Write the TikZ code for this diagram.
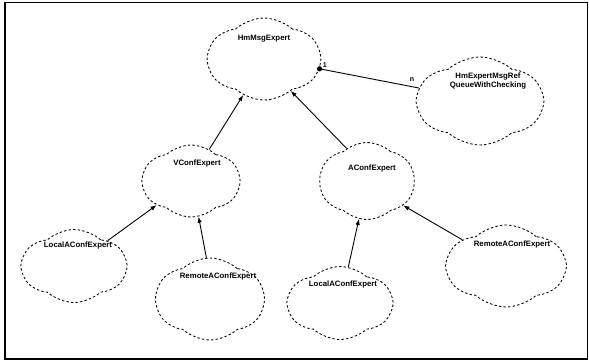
\documentclass[tikz,border=0pt]{standalone}
\usepackage{fontspec}
\setmainfont{Liberation Sans}
\usetikzlibrary{shapes.symbols,arrows.meta}
\tikzset{
  boochcloud/.style={shape=cloud, cloud puffs=6, cloud puff arc=85, cloud ignores aspect,
    draw=black, line width=0.85pt, dash pattern=on 2.4pt off 2.2pt, inner sep=0pt},
  cname/.style={font=\fontsize{7.8}{9}\selectfont\bfseries, align=center, inner sep=0pt},
  inherit/.style={-{Latex[length=6pt,width=4.5pt]}, line width=0.9pt},
  mult/.style={font=\fontsize{7}{8}\selectfont\bfseries, inner sep=0pt}
}
\begin{document}
\begin{tikzpicture}[x=1pt,y=-1pt]
\useasboundingbox (0,0) rectangle (589,362);
\draw[line width=1.6pt] (5,2.5) rectangle (587.5,359);
% clouds
\node[boochcloud, minimum width=112pt, minimum height=82pt, shape border rotate=10] (HM) at (264,59) {};
\node[boochcloud, minimum width=125pt, minimum height=88pt, shape border rotate=25] (QR) at (480,101) {};
\node[boochcloud, minimum width=97pt, minimum height=72pt, shape border rotate=5] (VC) at (191,181) {};
\node[boochcloud, minimum width=95pt, minimum height=77pt, shape border rotate=20] (AC) at (367,181) {};
\node[boochcloud, minimum width=104pt, minimum height=73pt, shape border rotate=15] (LL) at (74,266) {};
\node[boochcloud, minimum width=108pt, minimum height=82pt, shape border rotate=0] (RL) at (210,299) {};
\node[boochcloud, minimum width=104pt, minimum height=73pt, shape border rotate=30] (LB) at (340,303) {};
\node[boochcloud, minimum width=118pt, minimum height=82pt, shape border rotate=10] (RR) at (506,266) {};
% names
\node[cname] (tHM) at (264,39) {HmMsgExpert};
\node[cname] (tQR) at (488,81) {HmExpertMsgRef\\QueueWithChecking};
\node[cname] (tVC) at (197,163) {VConfExpert};
\node[cname] (tAC) at (372,168) {AConfExpert};
\node[cname] (tLL) at (78,245) {LocalAConfExpert};
\node[cname] (tRL) at (218,276) {RemoteAConfExpert};
\node[cname] (tLB) at (343,284) {LocalAConfExpert};
\node[cname] (tRR) at (512,244) {RemoteAConfExpert};
% inheritance
\draw[inherit] (VC.60) -- (HM.240);
\draw[inherit] (AC.122) -- (HM.310);
\draw[inherit] (LL.37) -- (VC.215);
\draw[inherit] (RL.95) -- (VC.282);
\draw[inherit] (LB.77) -- (AC.258);
\draw[inherit] (RR.149) -- (AC.326);
% association
\draw[line width=0.9pt] (HM.350) -- (QR.168);
\fill (HM.350) circle (2.6pt);
\node[mult, anchor=south west, xshift=3pt, yshift=1pt] (m1) at (HM.350) {1};
\node[mult] (mn) at (412,80) {n};
\end{tikzpicture}
\end{document}
